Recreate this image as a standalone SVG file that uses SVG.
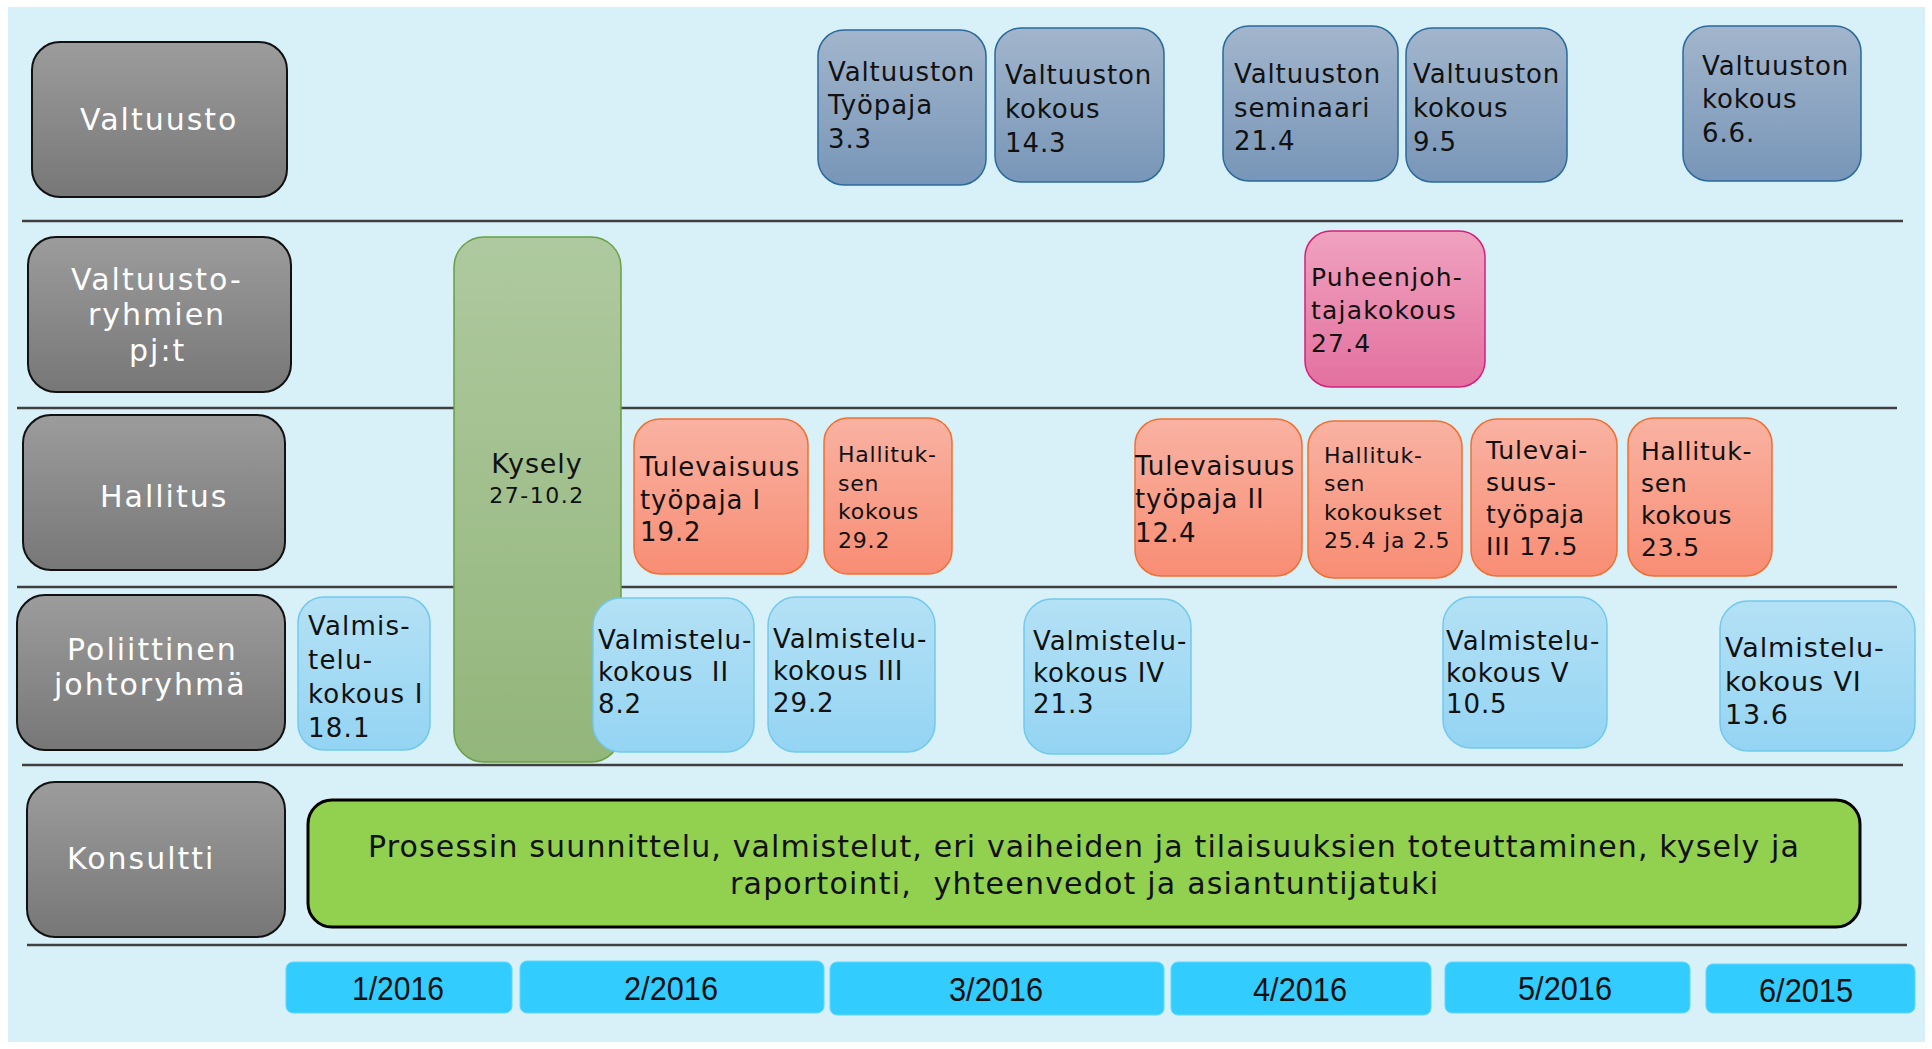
<svg xmlns="http://www.w3.org/2000/svg" width="1932" height="1049" viewBox="0 0 1932 1049">
<defs>
<linearGradient id="gGray" x1="0" y1="0" x2="0" y2="1"><stop offset="0" stop-color="#9c9c9c"/><stop offset="1" stop-color="#777777"/></linearGradient>
<linearGradient id="gSteel" x1="0" y1="0" x2="0" y2="1"><stop offset="0" stop-color="#a2b5cc"/><stop offset="1" stop-color="#7896b8"/></linearGradient>
<linearGradient id="gKysely" x1="0" y1="0" x2="0" y2="1"><stop offset="0" stop-color="#aec99f"/><stop offset="1" stop-color="#93b67b"/></linearGradient>
<linearGradient id="gPink" x1="0" y1="0" x2="0" y2="1"><stop offset="0" stop-color="#f0a2bf"/><stop offset="1" stop-color="#e3709f"/></linearGradient>
<linearGradient id="gOrange" x1="0" y1="0" x2="0" y2="1"><stop offset="0" stop-color="#f9b2a2"/><stop offset="1" stop-color="#f88d74"/></linearGradient>
<linearGradient id="gLight" x1="0" y1="0" x2="0" y2="1"><stop offset="0" stop-color="#b4e1f5"/><stop offset="1" stop-color="#94d4f3"/></linearGradient>
</defs>
<style>
.lane{stroke:#404040;stroke-width:2.5}
.lbl{fill:url(#gGray);stroke:#111;stroke-width:2}
.lblt{font-family:"DejaVu Sans",Verdana,sans-serif;font-size:30px;letter-spacing:2px;fill:#fff}
.steel{fill:url(#gSteel);stroke:#2a6a9c;stroke-width:1.5}
.pink{fill:url(#gPink);stroke:#d3207a;stroke-width:1.5}
.orange{fill:url(#gOrange);stroke:#f07030;stroke-width:1.5}
.light{fill:url(#gLight);stroke:#72c9ec;stroke-width:1.5}
.kys{fill:url(#gKysely);stroke:#6a9f45;stroke-width:1.5}
.t{font-family:"DejaVu Sans",Verdana,sans-serif;font-size:26px;letter-spacing:0.9px;fill:#111}
.s22{font-size:22px;letter-spacing:0.8px}
.s25{font-size:25px;letter-spacing:0.8px}
.s24{font-size:25px;letter-spacing:1.2px}
.s27{font-size:27px}
.month{fill:#33ccff;stroke:#5ed8ff;stroke-width:1}
.mt{font-family:"Liberation Sans",Arial,sans-serif;font-size:33px;fill:#111;text-anchor:middle}
</style>
<rect x="8" y="7" width="1917" height="1035" fill="#d8f0f8"/>
<g id="lanes">
<line class="lane" x1="22" y1="221" x2="1903" y2="221"/>
<line class="lane" x1="17" y1="408" x2="1897" y2="408"/>
<line class="lane" x1="17" y1="587" x2="1897" y2="587"/>
<line class="lane" x1="22" y1="765" x2="1903" y2="765"/>
<line class="lane" x1="27" y1="945" x2="1907" y2="945"/>
</g>
<g id="connectors"></g>
<g id="lbl-valtuusto"><rect class="lbl" x="32" y="42" width="255" height="155" rx="28"/><text class="lblt" x="80" y="130">Valtuusto</text></g>
<g id="lbl-ryhmien"><rect class="lbl" x="28" y="237" width="263" height="155" rx="28"/><text class="lblt" x="71" y="290">Valtuusto-</text><text class="lblt" x="88" y="325">ryhmien</text><text class="lblt" x="129" y="361">pj:t</text></g>
<g id="lbl-hallitus"><rect class="lbl" x="23" y="415" width="262" height="155" rx="28"/><text class="lblt" x="100" y="507">Hallitus</text></g>
<g id="lbl-poliittinen"><rect class="lbl" x="17" y="595" width="268" height="155" rx="28"/><text class="lblt" x="67" y="660">Poliittinen</text><text class="lblt" x="54" y="695">johtoryhmä</text></g>
<g id="lbl-konsultti"><rect class="lbl" x="27" y="782" width="258" height="155" rx="28"/><text class="lblt" x="67" y="869">Konsultti</text></g>
<g id="kysely"><rect class="kys" x="454" y="237" width="167" height="525" rx="30"/><text class="t s27" x="537" y="473" text-anchor="middle">Kysely</text><text class="t s22" x="537" y="503" text-anchor="middle" style="letter-spacing:1.5px">27-10.2</text></g>
<g id="v1"><rect class="steel" x="818" y="30" width="168" height="155" rx="26"/><text class="t" x="828" y="81">Valtuuston</text><text class="t" x="828" y="114">Työpaja</text><text class="t" x="828" y="148">3.3</text></g>
<g id="v2"><rect class="steel" x="995" y="28" width="169" height="154" rx="26"/><text class="t" x="1005" y="84">Valtuuston</text><text class="t" x="1005" y="118">kokous</text><text class="t" x="1005" y="152">14.3</text></g>
<g id="v3"><rect class="steel" x="1223" y="26" width="175" height="155" rx="26"/><text class="t" x="1234" y="83">Valtuuston</text><text class="t" x="1234" y="117">seminaari</text><text class="t" x="1234" y="150">21.4</text></g>
<g id="v4"><rect class="steel" x="1406" y="28" width="161" height="154" rx="26"/><text class="t" x="1413" y="83">Valtuuston</text><text class="t" x="1413" y="117">kokous</text><text class="t" x="1413" y="151">9.5</text></g>
<g id="v5"><rect class="steel" x="1683" y="26" width="178" height="155" rx="26"/><text class="t" x="1702" y="75">Valtuuston</text><text class="t" x="1702" y="108">kokous</text><text class="t" x="1702" y="142">6.6.</text></g>
<g id="pj"><rect class="pink" x="1305" y="231" width="180" height="156" rx="26"/><text class="t s24" x="1311" y="286">Puheenjoh-</text><text class="t s24" x="1311" y="319">tajakokous</text><text class="t s24" x="1311" y="352">27.4</text></g>
<g id="h1"><rect class="orange" x="634" y="419" width="174" height="155" rx="26"/><text class="t" x="640" y="476">Tulevaisuus</text><text class="t" x="640" y="509">työpaja I</text><text class="t" x="640" y="541">19.2</text></g>
<g id="h2"><rect class="orange" x="824" y="418" width="128" height="156" rx="24"/><text class="t s22" x="838" y="462">Hallituk-</text><text class="t s22" x="838" y="491">sen</text><text class="t s22" x="838" y="519">kokous</text><text class="t s22" x="838" y="548">29.2</text></g>
<g id="h3"><rect class="orange" x="1135" y="419" width="167" height="157" rx="26"/><text class="t" x="1135" y="475">Tulevaisuus</text><text class="t" x="1135" y="508">työpaja II</text><text class="t" x="1135" y="542">12.4</text></g>
<g id="h4"><rect class="orange" x="1308" y="421" width="154" height="157" rx="26"/><text class="t s22" x="1324" y="463">Hallituk-</text><text class="t s22" x="1324" y="491">sen</text><text class="t s22" x="1324" y="520">kokoukset</text><text class="t s22" x="1324" y="548">25.4 ja 2.5</text></g>
<g id="h5"><rect class="orange" x="1471" y="419" width="146" height="157" rx="26"/><text class="t s25" x="1486" y="459">Tulevai-</text><text class="t s25" x="1486" y="491">suus-</text><text class="t s25" x="1486" y="523">työpaja</text><text class="t s25" x="1486" y="555">III 17.5</text></g>
<g id="h6"><rect class="orange" x="1628" y="418" width="144" height="158" rx="26"/><text class="t s25" x="1641" y="460">Hallituk-</text><text class="t s25" x="1641" y="492">sen</text><text class="t s25" x="1641" y="524">kokous</text><text class="t s25" x="1641" y="556">23.5</text></g>
<g id="p1"><rect class="light" x="298" y="597" width="132" height="153" rx="26"/><text class="t" x="308" y="635" style="letter-spacing:1.2px">Valmis-</text><text class="t" x="308" y="669" style="letter-spacing:1.2px">telu-</text><text class="t" x="308" y="703" style="letter-spacing:1.2px">kokous I</text><text class="t" x="308" y="737" style="letter-spacing:1.2px">18.1</text></g>
<g id="p2"><rect class="light" x="593" y="598" width="161" height="154" rx="28"/><text class="t" x="598" y="649">Valmistelu-</text><text class="t" x="598" y="681" xml:space="preserve">kokous  II</text><text class="t" x="598" y="713">8.2</text></g>
<g id="p3"><rect class="light" x="768" y="597" width="167" height="155" rx="28"/><text class="t" x="773" y="648">Valmistelu-</text><text class="t" x="773" y="680">kokous III</text><text class="t" x="773" y="712">29.2</text></g>
<g id="p4"><rect class="light" x="1024" y="599" width="167" height="155" rx="28"/><text class="t" x="1033" y="650">Valmistelu-</text><text class="t" x="1033" y="682">kokous IV</text><text class="t" x="1033" y="713">21.3</text></g>
<g id="p5"><rect class="light" x="1443" y="597" width="164" height="151" rx="28"/><text class="t" x="1446" y="650">Valmistelu-</text><text class="t" x="1446" y="682">kokous V</text><text class="t" x="1446" y="713">10.5</text></g>
<g id="p6"><rect class="light" x="1720" y="601" width="195" height="150" rx="28"/><text class="t s27" x="1725" y="657">Valmistelu-</text><text class="t s27" x="1725" y="691">kokous VI</text><text class="t s27" x="1725" y="724">13.6</text></g>
<g id="konsultti-task"><rect x="308" y="800" width="1552" height="127" rx="24" fill="#92d050" stroke="#000" stroke-width="3"/><text class="t" x="368" y="857" style="font-size:30px;letter-spacing:0" textLength="1431" lengthAdjust="spacing">Prosessin suunnittelu, valmistelut, eri vaiheiden ja tilaisuuksien toteuttaminen, kysely ja</text><text class="t" x="730" y="894" style="font-size:30px;letter-spacing:0" textLength="708" lengthAdjust="spacing" xml:space="preserve">raportointi,  yhteenvedot ja asiantuntijatuki</text></g>
<g id="m1"><rect class="month" x="286" y="962" width="226" height="51" rx="7"/><text class="mt" x="398" y="1000" textLength="92" lengthAdjust="spacingAndGlyphs">1/2016</text></g>
<g id="m2"><rect class="month" x="520" y="961" width="304" height="52" rx="7"/><text class="mt" x="671" y="1000" textLength="94" lengthAdjust="spacingAndGlyphs">2/2016</text></g>
<g id="m3"><rect class="month" x="830" y="962" width="334" height="53" rx="7"/><text class="mt" x="996" y="1001" textLength="94" lengthAdjust="spacingAndGlyphs">3/2016</text></g>
<g id="m4"><rect class="month" x="1171" y="962" width="260" height="53" rx="7"/><text class="mt" x="1300" y="1001" textLength="94" lengthAdjust="spacingAndGlyphs">4/2016</text></g>
<g id="m5"><rect class="month" x="1445" y="962" width="245" height="51" rx="7"/><text class="mt" x="1565" y="1000" textLength="94" lengthAdjust="spacingAndGlyphs">5/2016</text></g>
<g id="m6"><rect class="month" x="1706" y="964" width="209" height="49" rx="7"/><text class="mt" x="1806" y="1002" textLength="94" lengthAdjust="spacingAndGlyphs">6/2015</text></g>
</svg>
